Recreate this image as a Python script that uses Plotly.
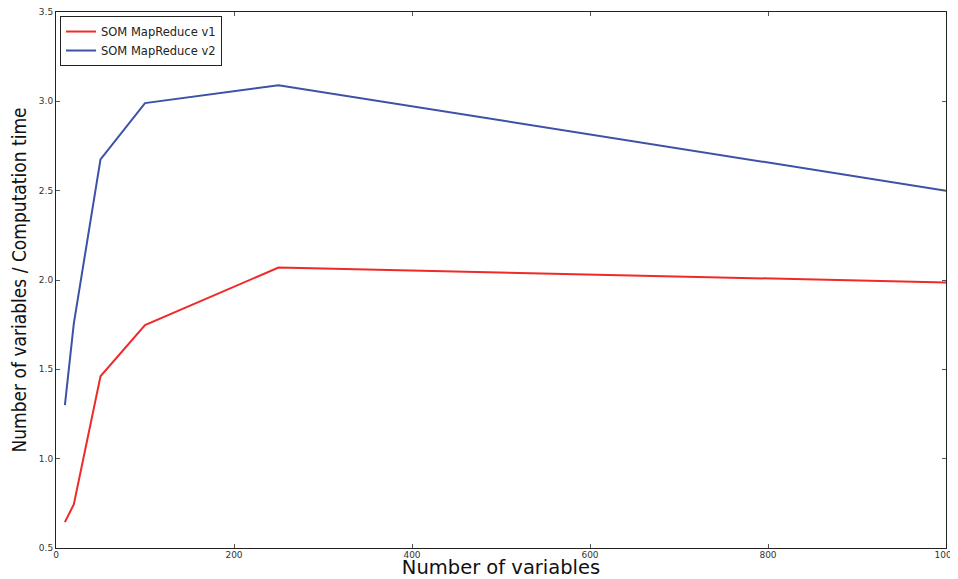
import plotly.graph_objects as go

x_vals = [10, 20, 50, 100, 250, 1000]
v1 = [0.645, 0.744, 1.461, 1.747, 2.07, 1.986]
v2 = [1.30, 1.756, 2.675, 2.99, 3.09, 2.50]
x_ticks = [0, 200, 400, 600, 800, 1000]
y_ticks = [0.5, 1.0, 1.5, 2.0, 2.5, 3.0, 3.5]

font_reg = "DejaVu Sans, sans-serif"
font_cond = "DejaVu Sans Condensed, DejaVu Sans, sans-serif"

fig = go.Figure()
fig.add_trace(go.Scatter(x=x_vals, y=v1, mode="lines", name="SOM MapReduce v1",
                         line=dict(color="#ee2a2a", width=2)))
fig.add_trace(go.Scatter(x=x_vals, y=v2, mode="lines", name="SOM MapReduce v2",
                         line=dict(color="#3d52a6", width=2)))

axis_common = dict(showgrid=False, zeroline=False, showline=True, linecolor="#222",
                   linewidth=1, mirror="ticks", ticks="inside", ticklen=4,
                   tickcolor="#555", automargin=False, ticklabeloverflow="allow",
                   tickfont=dict(size=9, color="#333", family=font_reg))

fig.update_xaxes(range=[0, 1000], tickvals=x_ticks, ticktext=[str(t) for t in x_ticks],
                 title=dict(text="Number of variables", font=dict(size=19.5, color="#111", family=font_reg), standoff=10),
                 **axis_common)
try:
    fig.update_xaxes(ticklabelstandoff=-2)
except Exception:
    pass
fig.update_yaxes(range=[0.5, 3.5], tickvals=y_ticks, ticktext=[f"{t:.1f}" for t in y_ticks],
                 ticklabelstandoff=0,
                 title=dict(text="Number of variables / Computation time", font=dict(size=19, color="#111", family=font_cond), standoff=8),
                 **axis_common)

fig.update_layout(
    width=958, height=571,
    margin=dict(l=48, r=20, t=4, b=31),
    plot_bgcolor="white", paper_bgcolor="white",
    legend=dict(x=0.0045, y=0.9925, xanchor="left", yanchor="top",
                bordercolor="#222", borderwidth=1, bgcolor="white",
                font=dict(size=11.5, color="#222", family=font_reg),
                tracegroupgap=0, itemwidth=30),
    showlegend=True,
)

fig.write_html("out.html")
